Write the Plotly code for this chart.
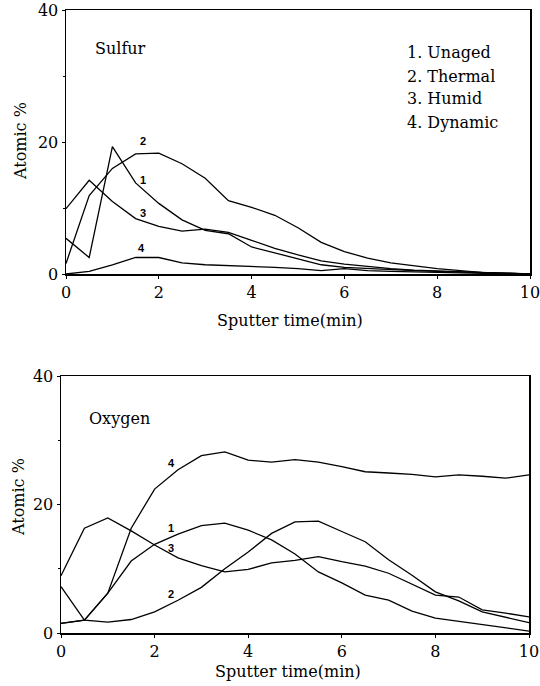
import plotly.graph_objects as go

# ---- data ----
time_min = [0, 0.5, 1, 1.5, 2, 2.5, 3, 3.5, 4, 4.5, 5, 5.5, 6, 6.5, 7, 7.5, 8, 8.5, 9, 9.5, 10]

sulfur_unaged = [5.4, 2.5, 19.3, 13.8, 10.7, 8.2, 6.6, 6.1, 4.1, 3.2, 2.3, 1.4, 1.0, 0.8, 0.6, 0.5, 0.4, 0.3, 0.2, 0.1, 0.0]
sulfur_thermal = [1.6, 11.9, 16.0, 18.2, 18.3, 16.7, 14.5, 11.1, 10.1, 8.9, 7.0, 4.8, 3.4, 2.4, 1.7, 1.2, 0.8, 0.5, 0.2, 0.1, 0.0]
sulfur_humid = [9.9, 14.2, 11.0, 8.4, 7.2, 6.5, 6.8, 6.3, 5.1, 3.9, 2.9, 2.0, 1.5, 1.1, 0.8, 0.6, 0.5, 0.3, 0.2, 0.1, 0.0]
sulfur_dynamic = [0.0, 0.4, 1.4, 2.5, 2.5, 1.7, 1.4, 1.3, 1.2, 1.0, 0.8, 0.5, 0.8, 0.5, 0.4, 0.3, 0.3, 0.2, 0.1, 0.1, 0.0]

oxygen_unaged = [1.5, 2.0, 6.2, 11.2, 13.8, 15.4, 16.7, 17.1, 16.0, 14.5, 12.3, 9.5, 7.8, 5.9, 5.1, 3.4, 2.3, 1.8, 1.3, 0.8, 0.3]
oxygen_thermal = [7.2, 2.0, 1.7, 2.1, 3.3, 5.1, 7.1, 10.0, 12.6, 15.5, 17.3, 17.4, 15.8, 14.2, 11.4, 9.0, 6.4, 5.0, 3.3, 2.4, 1.6]
oxygen_humid = [8.9, 16.3, 17.9, 15.9, 13.7, 11.7, 10.5, 9.5, 9.9, 10.9, 11.3, 11.9, 11.1, 10.4, 9.3, 7.6, 5.9, 5.6, 3.6, 3.1, 2.5]
oxygen_dynamic = [1.5, 2.0, 6.2, 16.3, 22.4, 25.4, 27.6, 28.2, 26.9, 26.6, 27.0, 26.6, 25.9, 25.1, 24.9, 24.7, 24.3, 24.6, 24.4, 24.1, 24.6]

legend_lines = ["1. Unaged", "2. Thermal", "3. Humid", "4. Dynamic"]
x_ticks = [0, 2, 4, 6, 8, 10]
y_ticks = [0, 20, 40]
x_title = "Sputter time(min)"
y_title = "Atomic %"

# curve number labels: (label, x, y)
sulfur_curve_labels = [("2", 1.67, 20.2), ("1", 1.67, 14.2), ("3", 1.65, 9.2), ("4", 1.63, 3.9)]
oxygen_curve_labels = [("4", 2.36, 26.4), ("1", 2.36, 16.3), ("3", 2.36, 13.2), ("2", 2.34, 6.1)]

SERIF = "DejaVu Serif"
W, H = 540, 686
fig = go.Figure()

line = dict(color="black", width=1.3)
for ys in [sulfur_unaged, sulfur_thermal, sulfur_humid, sulfur_dynamic]:
    fig.add_trace(go.Scatter(x=time_min, y=ys, mode="lines", line=line, xaxis="x", yaxis="y",
                             showlegend=False, hoverinfo="skip"))
for ys in [oxygen_unaged, oxygen_thermal, oxygen_humid, oxygen_dynamic]:
    fig.add_trace(go.Scatter(x=time_min, y=ys, mode="lines", line=line, xaxis="x2", yaxis="y2",
                             showlegend=False, hoverinfo="skip"))

def xax(domain, anchor):
    return dict(domain=domain, anchor=anchor, range=[0, 10], tickvals=x_ticks, automargin=False,
                ticklabeloverflow="allow",
                showline=True, linecolor="black", linewidth=1.5, mirror=True,
                ticks="outside", ticklen=3, tickcolor="black", showgrid=False, zeroline=False,
                tickfont=dict(family=SERIF, size=16, color="black"))

def yax(domain, anchor):
    return dict(domain=domain, anchor=anchor, range=[0, 40], tickvals=y_ticks, automargin=False,
                ticklabeloverflow="allow",
                showline=True, linecolor="black", linewidth=1.5, mirror=True,
                ticks="outside", ticklen=3, tickcolor="black", showgrid=False, zeroline=False,
                minor=dict(dtick=10, ticks="outside", ticklen=2, tickcolor="black"),
                tickfont=dict(family=SERIF, size=16, color="black"))

tfont = dict(family=SERIF, size=16, color="black")
annotations = []
# axis titles (paper coordinates)
for cx, cy in [(290, 320), (288, 671)]:
    annotations.append(dict(x=cx / W, y=1 - cy / H, xref="paper", yref="paper", text=x_title,
                            showarrow=False, xanchor="center", yanchor="middle", font=tfont))
for cx, cy in [(20, 141), (18, 497)]:
    annotations.append(dict(x=cx / W, y=1 - cy / H, xref="paper", yref="paper", text=y_title,
                            textangle=-90, showarrow=False, xanchor="center", yanchor="middle", font=tfont))

annotations.append(dict(x=0.58, y=34.1, xref="x", yref="y", text="Sulfur", showarrow=False,
                        xanchor="left", yanchor="middle", font=tfont))
annotations.append(dict(x=0.55, y=33.4, xref="x2", yref="y2", text="Oxygen", showarrow=False,
                        xanchor="left", yanchor="middle", font=tfont))
for i, t in enumerate(legend_lines):
    annotations.append(dict(x=7.3, y=[33.6, 30.0, 26.6, 23.0][i], xref="x", yref="y", text=t, showarrow=False,
                            xanchor="left", yanchor="middle", font=tfont))
for t, xv, yv in sulfur_curve_labels:
    annotations.append(dict(x=xv, y=yv, xref="x", yref="y", text="<b>%s</b>" % t, showarrow=False,
                            font=dict(family="Liberation Sans", size=11, color="black")))
for t, xv, yv in oxygen_curve_labels:
    annotations.append(dict(x=xv, y=yv, xref="x2", yref="y2", text="<b>%s</b>" % t, showarrow=False,
                            font=dict(family="Liberation Sans", size=11, color="black")))

fig.update_layout(
    width=W, height=H,
    margin=dict(l=0, r=0, t=0, b=0),
    paper_bgcolor="white", plot_bgcolor="white",
    xaxis=xax([66 / W, 530 / W], "y"),
    yaxis=yax([1 - 274 / H, 1 - 10 / H], "x"),
    xaxis2=xax([61 / W, 529 / W], "y2"),
    yaxis2=yax([1 - 633 / H, 1 - 376 / H], "x2"),
    annotations=annotations,
    showlegend=False,
)

fig.write_html("out.html",
               config={"displayModeBar": False, "staticPlot": True},
               post_script="document.body.style.margin='0';document.body.style.padding='0';document.body.style.overflow='hidden';")
